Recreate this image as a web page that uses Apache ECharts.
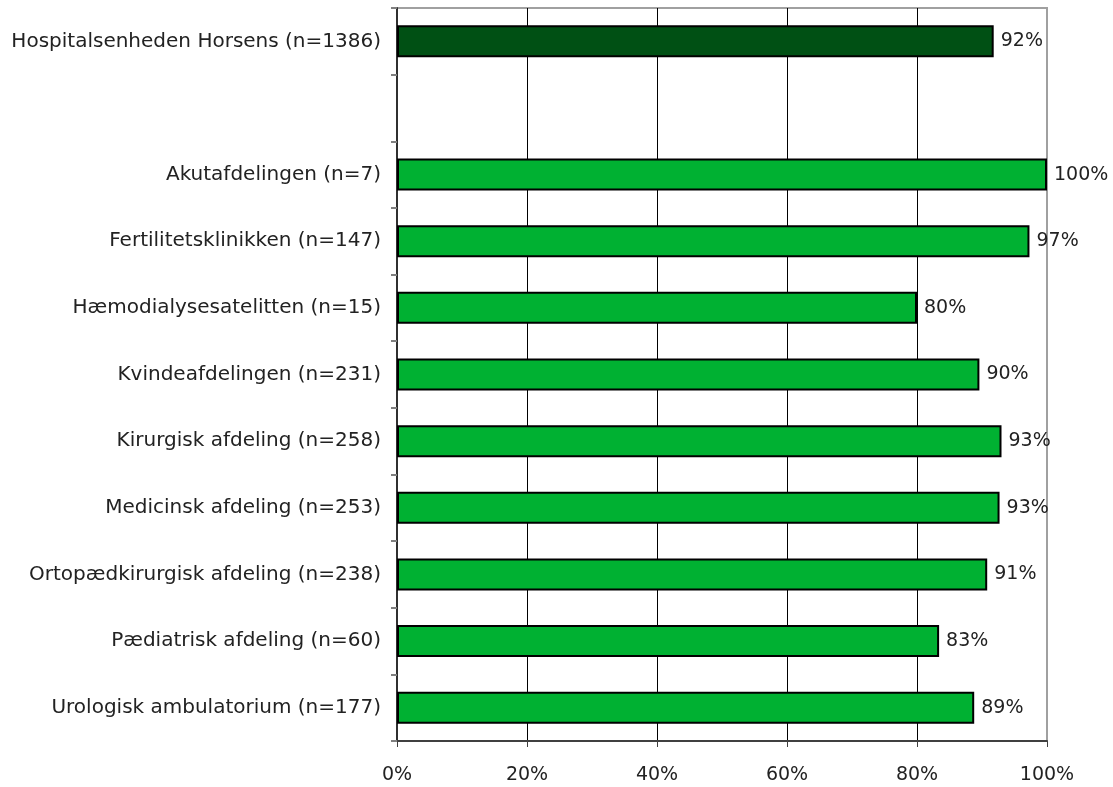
<!DOCTYPE html>
<html>
<head>
<meta charset="utf-8">
<script src="https://cdn.jsdelivr.net/npm/echarts@6/dist/echarts.min.js"></script>
<style>html,body{margin:0;padding:0;background:#fff;}#c{width:1113px;height:787px;}</style>
</head>
<body>
<div id="c"></div>
<script>
const categories = [
  'Hospitalsenheden Horsens (n=1386)',
  '',
  'Akutafdelingen (n=7)',
  'Fertilitetsklinikken (n=147)',
  'Hæmodialysesatelitten (n=15)',
  'Kvindeafdelingen (n=231)',
  'Kirurgisk afdeling (n=258)',
  'Medicinsk afdeling (n=253)',
  'Ortopædkirurgisk afdeling (n=238)',
  'Pædiatrisk afdeling (n=60)',
  'Urologisk ambulatorium (n=177)'
];
const values = [91.8, null, 100, 97.3, 80.0, 89.6, 93.0, 92.7, 90.8, 83.4, 88.8];
const xTicks = [0, 20, 40, 60, 80, 100];
const totalColor = '#005014';
const unitColor = '#00b132';

const chart = echarts.init(document.getElementById('c'), null, {renderer: 'canvas'});
const FONT = 'DejaVu Sans';
chart.setOption({
  animation: false,
  grid: {left: 397, right: 66, top: 8, bottom: 46, show: true, borderColor: '#a0a0a0', borderWidth: 2, backgroundColor: 'transparent'},
  xAxis: {
    type: 'value', min: xTicks[0], max: xTicks[xTicks.length - 1], interval: 20,
    axisLine: {show: true, lineStyle: {color: '#404040', width: 2}},
    axisTick: {show: true, length: 6, lineStyle: {color: '#404040', width: 1}},
    axisLabel: {formatter: v => v + '%', fontFamily: FONT, fontSize: 19, color: '#222', margin: 25},
    splitLine: {show: true, showMinLine: false, showMaxLine: false, lineStyle: {color: '#000', width: 1}}
  },
  yAxis: {
    type: 'category', data: categories, inverse: true,
    axisLine: {show: true, lineStyle: {color: '#303030', width: 2}},
    axisTick: {show: true, length: 6, alignWithLabel: false, lineStyle: {color: '#808080', width: 2}},
    axisLabel: {fontFamily: FONT, fontSize: 20, color: '#222', margin: 16},
    splitLine: {show: false}
  },
  series: [{
    type: 'bar',
    barWidth: '48%',
    data: values.map((v, i) => v === null ? null : {value: v, itemStyle: {color: i === 0 ? totalColor : unitColor}}),
    itemStyle: {borderColor: '#000', borderWidth: 2},
    label: {show: true, position: 'right', distance: 7, fontFamily: FONT, fontSize: 19, color: '#222',
      formatter: p => Math.round(p.value) + '%'}
  }]
});
</script>
</body>
</html>
